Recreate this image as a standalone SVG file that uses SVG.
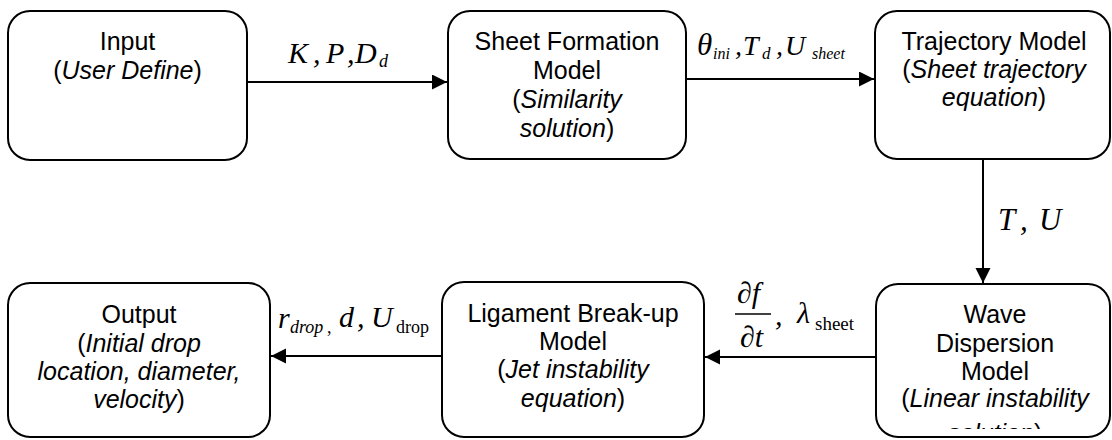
<svg xmlns="http://www.w3.org/2000/svg" width="1112" height="440" viewBox="0 0 1112 440">
<style>
.box{fill:#fff;stroke:#000;stroke-width:2}
.lbl{font-family:"Liberation Sans",Arial,sans-serif;font-size:25px;fill:#000;text-anchor:middle}
.it{font-style:italic}
.math{font-family:"Liberation Serif","Times New Roman",serif;font-style:italic;fill:#000}
.up{font-family:"Liberation Serif","Times New Roman",serif;font-style:normal;fill:#000}
.edge{stroke:#000;stroke-width:2;fill:none;marker-end:url(#ah)}
</style>
<defs>
<marker id="ah" markerUnits="userSpaceOnUse" markerWidth="16" markerHeight="16" refX="15" refY="7.5" orient="auto">
<path d="M0,0 L15,7.5 L0,15 z" fill="#000"/>
</marker>
<clipPath id="waveclip"><rect x="876" y="284" width="236" height="145"/></clipPath>
</defs>
<rect width="1112" height="440" fill="#fff"/>

<g id="connectors">
<line class="edge" x1="247" y1="82" x2="447" y2="82"/>
<line class="edge" x1="686" y1="79" x2="874" y2="79"/>
<line class="edge" x1="983" y1="160" x2="983" y2="283"/>
<line class="edge" x1="876" y1="357" x2="705" y2="357"/>
<line class="edge" x1="442" y1="356" x2="271" y2="356"/>
<text class="math" font-size="30"><tspan x="288" y="63">K</tspan><tspan x="313" y="63">,</tspan><tspan x="326" y="63">P</tspan><tspan x="347" y="63">,</tspan><tspan x="355" y="63">D</tspan><tspan x="379" y="67" font-size="18">d</tspan></text>
<text class="math" font-size="28"><tspan x="697" y="55" font-size="31">θ</tspan><tspan x="713" y="59" font-size="16">ini</tspan><tspan x="735" y="55">,</tspan><tspan x="743" y="55">T</tspan><tspan x="762" y="59" font-size="17">d</tspan><tspan x="776" y="55">,</tspan><tspan x="785" y="55">U</tspan><tspan x="812" y="59" font-size="16">sheet</tspan></text>
<text class="math" font-size="31"><tspan x="998" y="230">T</tspan><tspan x="1020" y="230">,</tspan><tspan x="1039" y="230">U</tspan></text>
<text class="math" font-size="30"><tspan x="737" y="303">∂f</tspan><tspan x="740" y="347">∂t</tspan><tspan x="775" y="325">,</tspan><tspan x="797" y="323">λ</tspan></text>
<line x1="735" y1="314" x2="771" y2="314" stroke="#000" stroke-width="1.5"/>
<text class="up" font-size="19" x="815" y="330">sheet</text>
<text class="math" font-size="30"><tspan x="278" y="328">r</tspan><tspan x="290" y="333" font-size="18">drop</tspan><tspan x="327" y="333" font-size="18" font-style="normal">,</tspan><tspan x="339" y="327">d</tspan><tspan x="357" y="327">,</tspan><tspan x="371" y="327">U</tspan><tspan x="396" y="333" font-size="18" font-style="normal">drop</tspan></text>
</g>

<g id="input">
<rect class="box" x="8" y="11" width="239" height="149" rx="22"/>
<text class="lbl"><tspan x="127.5" y="50">Input</tspan><tspan x="127.5" y="78.5">(<tspan class="it">User Define</tspan>)</tspan></text>
</g>
<g id="sheet-formation">
<rect class="box" x="448" y="11" width="238" height="148" rx="22"/>
<text class="lbl"><tspan x="567" y="50">Sheet Formation</tspan><tspan x="567" y="79">Model</tspan><tspan x="567" y="108">(<tspan class="it">Similarity</tspan></tspan><tspan x="567" y="137"><tspan class="it">solution</tspan>)</tspan></text>
</g>
<g id="trajectory">
<rect class="box" x="875" y="11" width="235" height="148" rx="22"/>
<text class="lbl"><tspan x="994" y="50">Trajectory Model</tspan><tspan x="994" y="78">(<tspan class="it">Sheet trajectory</tspan></tspan><tspan x="994" y="106"><tspan class="it">equation</tspan>)</tspan></text>
</g>
<g id="wave-dispersion">
<rect class="box" x="876" y="284" width="234" height="153" rx="22"/>
<text class="lbl" clip-path="url(#waveclip)"><tspan x="995" y="323">Wave</tspan><tspan x="995" y="352">Dispersion</tspan><tspan x="995" y="380">Model</tspan><tspan x="995" y="407">(<tspan class="it">Linear instability</tspan></tspan><tspan x="995" y="442"><tspan class="it">solution</tspan>)</tspan></text>
</g>
<g id="ligament">
<rect class="box" x="442" y="282" width="262" height="155" rx="22"/>
<text class="lbl"><tspan x="573" y="322">Ligament Break-up</tspan><tspan x="573" y="350">Model</tspan><tspan x="573" y="378">(<tspan class="it">Jet instability</tspan></tspan><tspan x="573" y="407"><tspan class="it">equation</tspan>)</tspan></text>
</g>
<g id="output">
<rect class="box" x="8" y="283" width="262" height="154" rx="22"/>
<text class="lbl"><tspan x="139" y="323">Output</tspan><tspan x="139" y="352">(<tspan class="it">Initial drop</tspan></tspan><tspan x="139" y="380"><tspan class="it">location, diameter,</tspan></tspan><tspan x="139" y="408"><tspan class="it">velocity</tspan>)</tspan></text>
</g>
</svg>
